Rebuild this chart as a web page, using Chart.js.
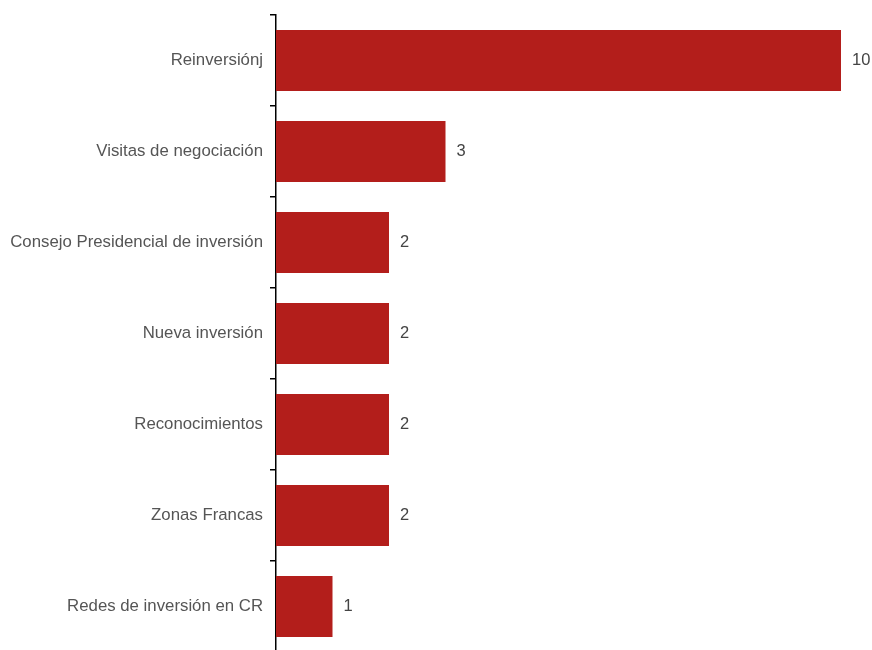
<!DOCTYPE html>
<html>
<head>
<meta charset="utf-8">
<script src="https://cdn.jsdelivr.net/npm/chart.js@4/dist/chart.umd.min.js"></script>
<style>
html,body{margin:0;padding:0;background:#fff;overflow:hidden;}
#wrap{width:872px;height:652px;position:relative;}
</style>
</head>
<body>
<div id="wrap"><canvas id="c"></canvas></div>
<script>
const categories = ["Reinversiónj","Visitas de negociación","Consejo Presidencial de inversión","Nueva inversión","Reconocimientos","Zonas Francas","Redes de inversión en CR"];
const values = [10,3,2,2,2,2,1];

const valueLabels = {
  id: 'valueLabels',
  afterDatasetsDraw(chart) {
    const ctx = chart.ctx;
    const meta = chart.getDatasetMeta(0);
    ctx.save();
    ctx.font = '16.5px "Liberation Sans", Arial, sans-serif';
    ctx.fillStyle = '#444444';
    ctx.textAlign = 'left';
    ctx.textBaseline = 'middle';
    meta.data.forEach((bar, i) => {
      ctx.fillText(String(values[i]), bar.x + 11, bar.y);
    });
    ctx.restore();
  }
};

new Chart(document.getElementById('c'), {
  type: 'bar',
  data: {
    labels: categories,
    datasets: [{
      data: values,
      backgroundColor: '#B31E1B',
      borderWidth: 0,
      barPercentage: 0.67,
      categoryPercentage: 1.0
    }]
  },
  options: {
    indexAxis: 'y',
    responsive: true,
    maintainAspectRatio: false,
    animation: false,
    layout: { padding: { top: 15, right: 31, left: 0, bottom: 0 } },
    plugins: { legend: { display: false }, tooltip: { enabled: false } },
    scales: {
      x: {
        display: false,
        min: 0,
        max: 10
      },
      y: {
        offset: true,
        afterFit(scale) { scale.width = 276; scale.paddingTop = 0; scale.paddingBottom = 0; },
        border: { display: true, color: '#000000', width: 1.5 },
        grid: {
          offset: true,
          drawOnChartArea: false,
          drawTicks: true,
          tickLength: 6,
          color: '#000000',
          lineWidth: 1.5
        },
        ticks: {
          padding: 7,
          color: '#555555',
          font: { family: '"Liberation Sans", Arial, sans-serif', size: 16.8 }
        }
      }
    }
  },
  plugins: [valueLabels]
});
</script>
</body>
</html>
